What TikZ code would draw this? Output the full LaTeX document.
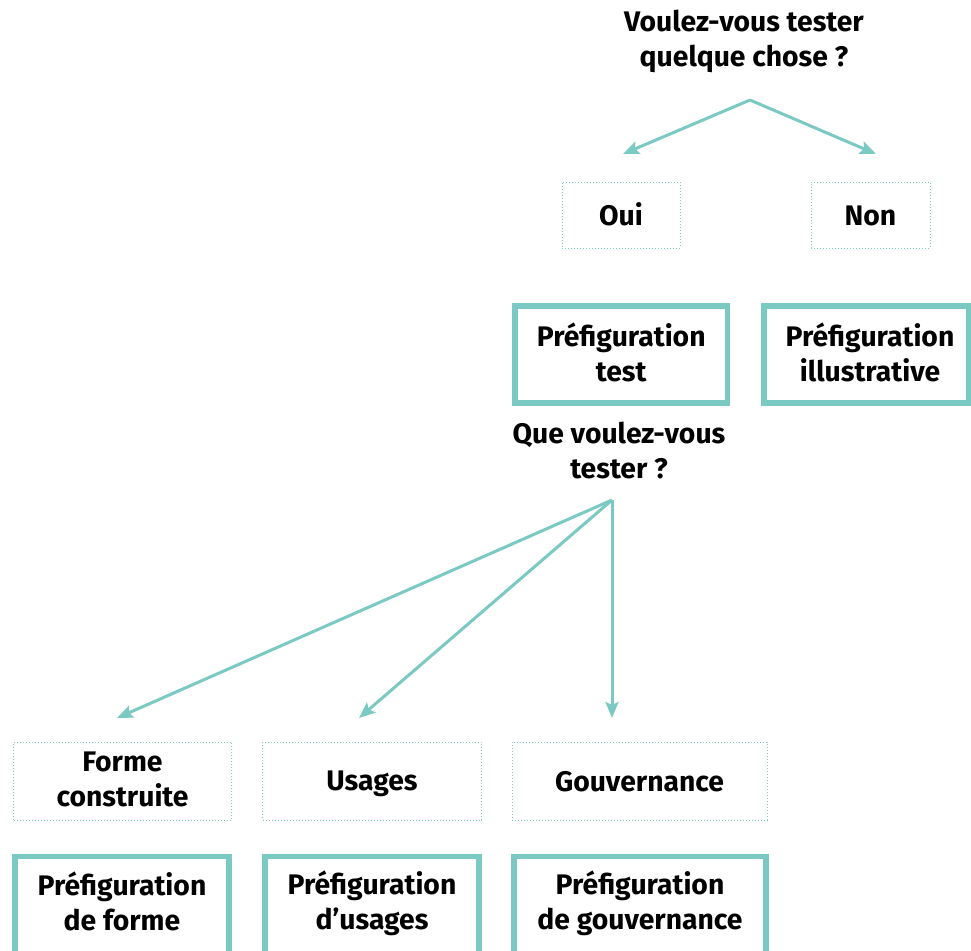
\documentclass[tikz,border=0pt]{standalone}
\usepackage{fontspec}
\setmainfont{Fira Sans}
\usetikzlibrary{arrows.meta}
\definecolor{teal1}{RGB}{122,201,194}
\newcommand\mystrut{\rule[-0.12em]{0pt}{1.08em}}
\begin{document}
\begin{tikzpicture}[x=1pt,y=-1pt,
  txt/.style={font=\bfseries\fontsize{28.3}{35}\selectfont, align=center, inner sep=0pt, text=black,
    execute at begin node=\mystrut, execute at end node=\mystrut},
  dotbox/.style={draw=teal1, line width=1pt, dash pattern=on 1pt off 2pt, inner sep=0pt, outer sep=0pt, rectangle},
  thickbox/.style={draw=teal1, line width=5.3pt, inner sep=0pt, outer sep=0pt, rectangle},
  arr/.style={draw=teal1, line width=3pt, -{Stealth[length=16pt,width=13pt,inset=3pt]}}
]
\useasboundingbox (0,0) rectangle (971,950);
\clip (0,0) rectangle (971,950);

% top question
\node[txt] (q1) at (744,41.5) {Voulez-vous tester\\quelque chose ?};
\coordinate (o1) at (750,100);
\coordinate (t1) at (623,154);
\coordinate (t2) at (876,154);
\draw[arr] (o1) -- (t1);
\draw[arr] (o1) -- (t2);

% oui / non
\node[dotbox, minimum width=118, minimum height=66] (oui) at (621,215) {};
\node[txt] (ouit) at (621,214) {Oui};
\node[dotbox, minimum width=119, minimum height=66] (non) at (870.5,215) {};
\node[txt] (nont) at (870.5,214) {Non};

% préfiguration boxes
\node[thickbox, minimum width=212.5, minimum height=97] (ptest) at (621.25,354.5) {};
\node[txt] (ptestt) at (621.25,353.5) {Préfiguration\\test};
\node[thickbox, minimum width=205, minimum height=97] (pill) at (866.5,354.5) {};
\node[txt] (pillt) at (870,353.5) {Préfiguration\\illustrative};

% second question
\node[txt] (q2) at (619,451.5) {Que voulez-vous\\tester ?};
\coordinate (o2) at (612,500);
\coordinate (u1) at (117,718);
\coordinate (u2) at (359,718);
\coordinate (u3) at (612,718);
\draw[arr] (o2) -- (u1);
\draw[arr] (o2) -- (u2);
\draw[arr] (o2) -- (u3);

% categories
\node[dotbox, minimum width=218, minimum height=78] (forme) at (122.5,781) {};
\node[txt] (formet) at (122.5,781) {Forme\\construite};
\node[dotbox, minimum width=219, minimum height=78] (usag) at (372,781) {};
\node[txt] (usagt) at (372,780) {Usages};
\node[dotbox, minimum width=255, minimum height=78] (gouv) at (639.5,781) {};
\node[txt] (gouvt) at (639.5,780) {Gouvernance};

% bottom préfigurations
\node[thickbox, minimum width=214, minimum height=140, anchor=north] (pf) at (122,856.5) {};
\node[txt] (pft) at (122,903) {Préfiguration\\de forme};
\node[thickbox, minimum width=214, minimum height=140, anchor=north] (pu) at (372,856.5) {};
\node[txt] (put) at (372,903) {Préfiguration\\d’usages};
\node[thickbox, minimum width=252, minimum height=140, anchor=north] (pg) at (640,856.5) {};
\node[txt] (pgt) at (640,903) {Préfiguration\\de gouvernance};
\end{tikzpicture}
\end{document}
